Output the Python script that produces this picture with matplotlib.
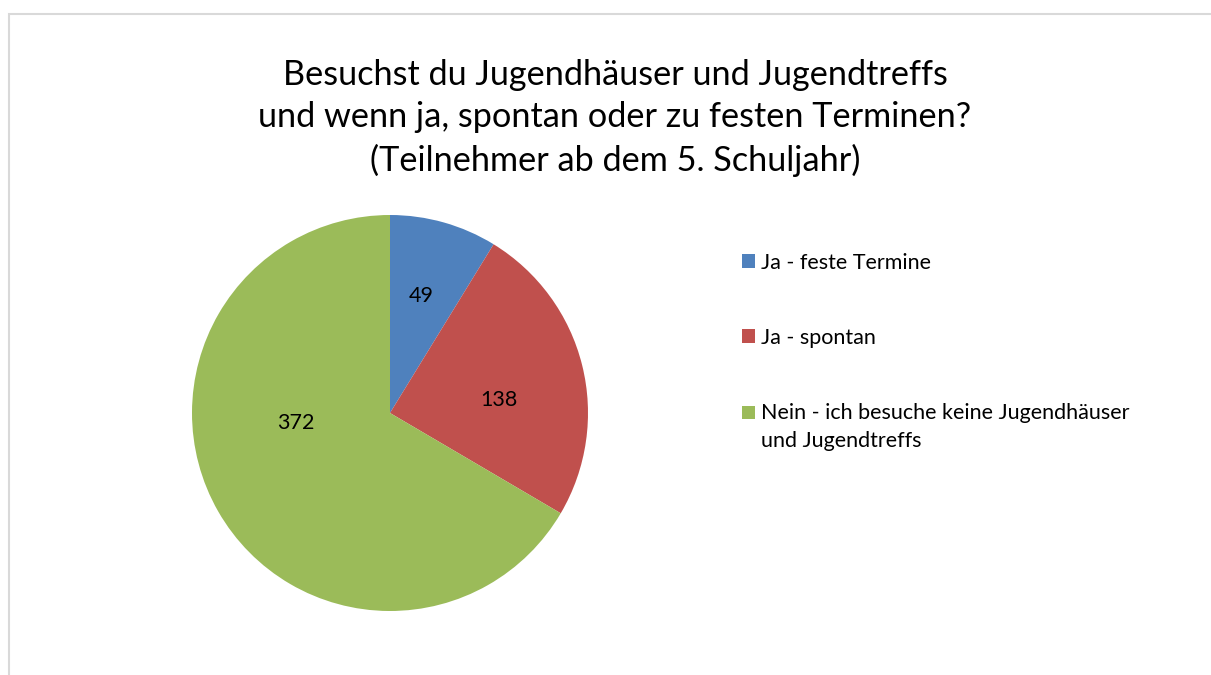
import matplotlib
matplotlib.use('Agg')
import matplotlib.pyplot as plt
from matplotlib.patches import Rectangle
import numpy as np

# data
labels = ['Ja - feste Termine', 'Ja - spontan',
          'Nein - ich besuche keine Jugendhäuser\nund Jugendtreffs']
values = [49, 138, 372]
colors = ['#4F81BD', '#C0504D', '#9BBB59']
title = ('Besuchst du Jugendhäuser und Jugendtreffs\n'
         'und wenn ja, spontan oder zu festen Terminen?\n'
         '(Teilnehmer ab dem 5. Schuljahr)')

# label placement (radius fraction, angle nudge in degrees) like Excel best fit
label_dist = [0.61, 0.555, 0.48]
label_nudge = [-1, 7, 24]

plt.rcParams['font.family'] = ['Lato', 'DejaVu Sans']

W, H = 1211, 675
fig = plt.figure(figsize=(W / 100, H / 100), dpi=100)

# chart border (right/bottom edge run past the image)
fig.patches.append(Rectangle((8.5 / W, -0.05), 1.1, 1 - 13.5 / H + 0.05,
                             transform=fig.transFigure, fill=False,
                             edgecolor='#d9d9d9', linewidth=1.5))

fig.text(615 / W, 1 - 118 / H, title, ha='center', va='center',
         fontsize=24.7, linespacing=1.38, color='#000000')

ax = fig.add_axes([192 / W, (H - 611) / H, 396 / W, 396 / H])
wedges, _ = ax.pie(values, colors=colors, startangle=90, counterclock=False,
                   wedgeprops=dict(linewidth=0))
ax.set_xlim(-1, 1)
ax.set_ylim(-1, 1)
ax.set_aspect('equal')

for w, v, d, n in zip(wedges, values, label_dist, label_nudge):
    ang = np.deg2rad((w.theta1 + w.theta2) / 2 - n)
    ax.text(d * np.cos(ang), d * np.sin(ang), str(v), ha='center',
            va='center', fontsize=15.5, color='#000000')

leg = fig.legend(wedges, labels, loc='upper left',
                 bbox_to_anchor=(731 / W, 1 - 242 / H), frameon=False,
                 fontsize=15.5, handlelength=0.6, handleheight=0.6,
                 handletextpad=0.3, labelspacing=2.55, borderpad=0)
for t in leg.get_texts():
    t.set_linespacing(1.5)

# Excel keeps the marker beside the first line of a wrapped entry
for h, t in zip(leg.legend_handles, leg.get_texts()):
    extra = t.get_text().count('\n')
    if extra:
        h.set_y(h.get_y() + extra * 10.5)

fig.savefig('out.png', dpi=100)
